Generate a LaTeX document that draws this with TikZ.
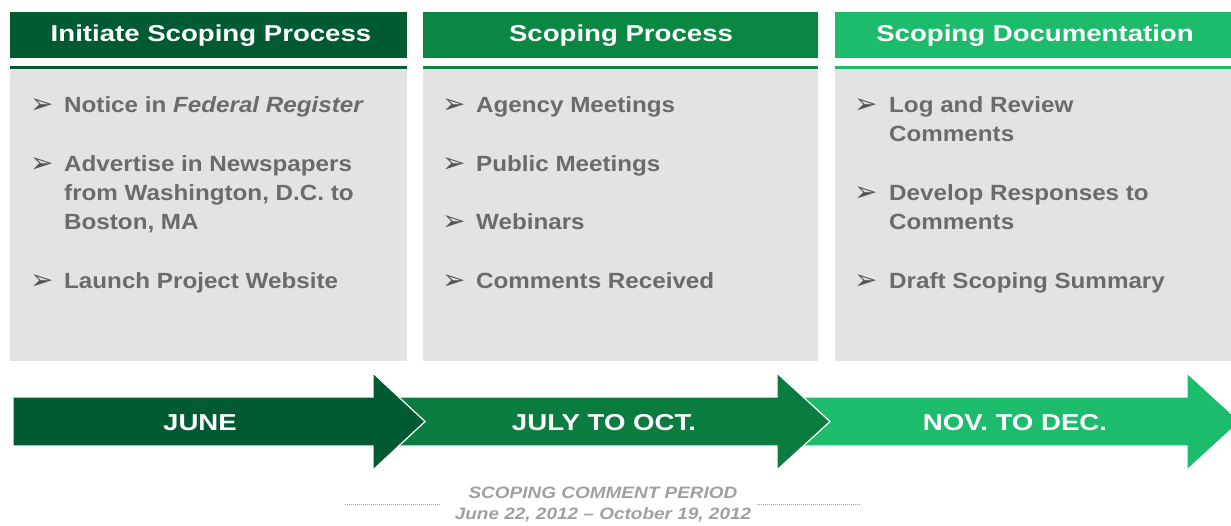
\documentclass[tikz,border=0pt]{standalone}
\usepackage{fontspec}
\setmainfont{Liberation Sans}
\newfontfamily\hdrfont[FakeStretch=1.2]{Liberation Sans}
\newfontfamily\itmfont[FakeStretch=1.1]{Liberation Sans}
\newfontfamily\lowfont[FakeStretch=1.15]{Liberation Sans}
\newfontfamily\symfont{DejaVu Sans}
\definecolor{gA}{HTML}{005A32}
\definecolor{gB}{HTML}{0B8744}
\definecolor{gBarr}{HTML}{0B7C40}
\definecolor{gC}{HTML}{1DBB6C}
\definecolor{boxgrey}{HTML}{E3E3E3}
\definecolor{txtgrey}{HTML}{6B6B6B}
\definecolor{bulgrey}{HTML}{555555}
\definecolor{lowgrey}{HTML}{A0A0A0}
\tikzset{
  hdr/.style={font=\hdrfont\fontsize{23}{27}\selectfont\bfseries, text=white, inner sep=0pt},
  itm/.style={font=\itmfont\fontsize{22}{29}\selectfont\bfseries, text=txtgrey, inner sep=0pt, align=left, anchor=base west},
  bul/.style={font=\symfont\fontsize{28}{30}\selectfont, text=bulgrey, inner sep=0pt, anchor=base west},
  arrlbl/.style={font=\hdrfont\fontsize{23}{27}\selectfont\bfseries, text=white, inner sep=0pt, anchor=base},
  low/.style={font=\lowfont\fontsize{16.5}{21}\selectfont\bfseries\itshape, text=lowgrey, inner sep=0pt, anchor=base},
  dotline/.style={lowgrey, line width=1pt, dash pattern=on 0.9pt off 1.1pt}
}
\begin{document}
\begin{tikzpicture}[x=1pt,y=-1pt]
\useasboundingbox (0,0) rectangle (1231,525);
\clip (0,0) rectangle (1231,525);
% columns
\foreach \xa/\xb/\c/\n in {10/407/gA/1, 423/818/gB/2, 835/1231/gC/3}{
  \fill[\c] (\xa,12) rectangle (\xb,58);
  \fill[\c] (\xa,65.5) rectangle (\xb,69);
  \fill[boxgrey] (\xa,69) rectangle (\xb,361);
}
\node[hdr] (h1) at (211,36) {Initiate Scoping Process};
\node[hdr] (h2) at (621,36) {Scoping Process};
\node[hdr] (h3) at (1035,36) {Scoping Documentation};
% column 1
\node[bul] (b1a) at (30,113.5) {➢};
\node[itm] (t1a) at (64,112) {Notice in \textit{Federal Register}};
\node[bul] (b1b) at (30,172.5) {➢};
\node[itm] (t1b) at (64,229) {Advertise in Newspapers\\from Washington, D.C. to\\Boston, MA};
\node[bul] (b1c) at (30,289.5) {➢};
\node[itm] (t1c) at (64,288) {Launch Project Website};
% column 2
\node[bul] (b2a) at (442,113.5) {➢};
\node[itm] (t2a) at (476,112) {Agency Meetings};
\node[bul] (b2b) at (442,172.5) {➢};
\node[itm] (t2b) at (476,171) {Public Meetings};
\node[bul] (b2c) at (442,230.5) {➢};
\node[itm] (t2c) at (476,229) {Webinars};
\node[bul] (b2d) at (442,289.5) {➢};
\node[itm] (t2d) at (476,288) {Comments Received};
% column 3
\node[bul] (b3a) at (854,113.5) {➢};
\node[itm] (t3a) at (889,141) {Log and Review\\Comments};
\node[bul] (b3b) at (854,201.5) {➢};
\node[itm] (t3b) at (889,229) {Develop Responses to\\Comments};
\node[bul] (b3c) at (854,289.5) {➢};
\node[itm] (t3c) at (889,288) {Draft Scoping Summary};
% arrows (back to front)
\filldraw[fill=gC, draw=white, line width=1.2pt]
  (800,397) -- (1187,397) -- (1187,373) -- (1240,421.5) -- (1187,470) -- (1187,446) -- (800,446) -- cycle;
\filldraw[fill=gBarr, draw=white, line width=1.2pt]
  (395,397) -- (777,397) -- (777,373) -- (830,421.5) -- (777,470) -- (777,446) -- (395,446) -- cycle;
\filldraw[fill=gA, draw=white, line width=1.2pt]
  (13,397) -- (373,397) -- (373,373) -- (425,421.5) -- (373,470) -- (373,446) -- (13,446) -- cycle;
\node[arrlbl] (a1) at (200,430) {JUNE};
\node[arrlbl] (a2) at (604,430) {JULY TO OCT.};
\node[arrlbl] (a3) at (1015,430) {NOV. TO DEC.};
% bottom period
\node[low] (p1) at (603,498) {SCOPING COMMENT PERIOD};
\node[low] (p2) at (603,519) {June 22, 2012 – October 19, 2012};
\coordinate (dl1) at (345,504);
\coordinate (dl2) at (440,504);
\coordinate (dr1) at (757,504);
\coordinate (dr2) at (860,504);
\draw[dotline] (dl1) -- (dl2);
\draw[dotline] (dr1) -- (dr2);
\end{tikzpicture}
\end{document}
